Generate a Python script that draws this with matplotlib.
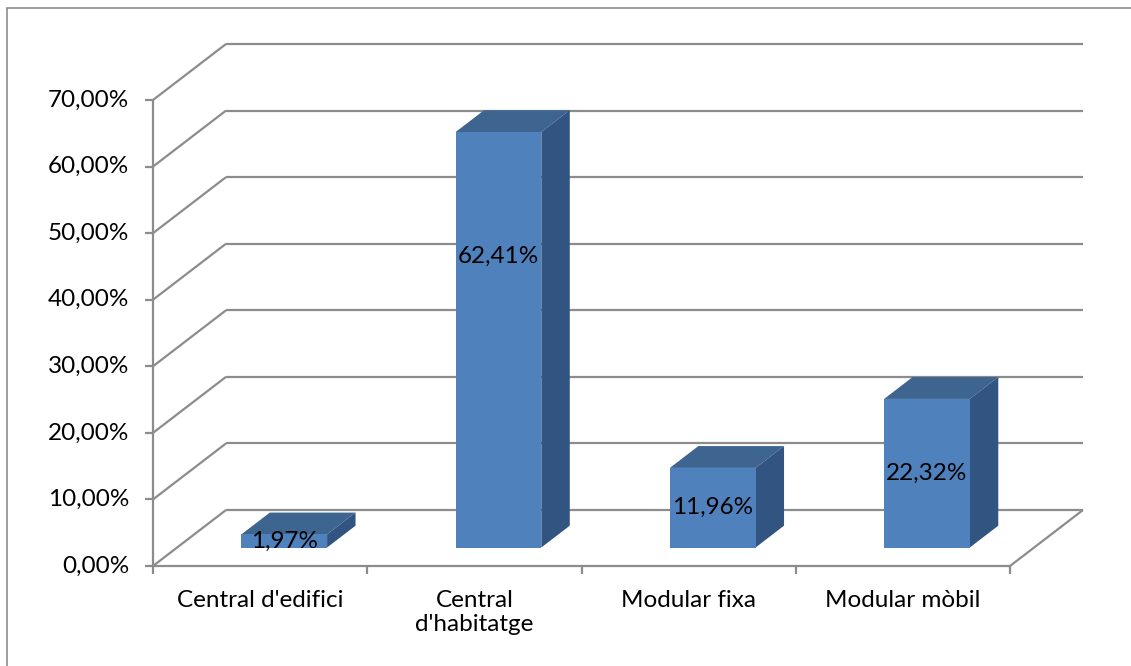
import matplotlib.pyplot as plt
from matplotlib.patches import Polygon, Rectangle

# chart data
categories = ["Central d'edifici", "Central\nd'habitatge", "Modular fixa", "Modular mòbil"]
values = [1.97, 62.41, 11.96, 22.32]
yticks = [0, 10, 20, 30, 40, 50, 60, 70]

plt.rcParams['font.family'] = ['Lato', 'DejaVu Sans']

W, H = 1131, 666
fig = plt.figure(figsize=(W / 100, H / 100), dpi=100)

# front plane of the 3d box, in pixels (left, bottom, right, top)
px0, py0, px1, py1 = 153, 566, 1010, 100
ax = fig.add_axes([px0 / W, (H - py0) / H, (px1 - px0) / W, (py0 - py1) / H])
ax.set_xlim(0, len(categories))
ax.set_ylim(0, 70)
ax.axis('off')

# depth of the box in data units
n = len(categories)
DX = 73 / ((px1 - px0) / n)
DY = 56 / ((py0 - py1) / 70)

grid_c = '#8c8c8c'
lw = 1.6
fs = 17.5
kw = dict(color=grid_c, lw=lw, clip_on=False, solid_capstyle='butt')

# back wall lines + left wall diagonals
for v in yticks:
    ax.plot([DX, n + DX], [v + DY, v + DY], zorder=1, **kw)
    ax.plot([0, DX], [v, v + DY], zorder=1, **kw)
# floor right edge, front axes
ax.plot([n, n + DX], [0, DY], zorder=1, **kw)
ax.plot([0, n], [0, 0], zorder=5, **kw)
ax.plot([0, 0], [0, 70], zorder=5, **kw)

# tick marks
tx = 8 / ((px1 - px0) / n)
ty = 8 / ((py0 - py1) / 70)
for v in yticks:
    ax.plot([-tx, 0], [v, v], zorder=5, **kw)
    ax.text(-0.11, v, f"{v:.2f}%".replace('.', ','), ha='right', va='center',
            fontsize=fs, color='black')
for i in range(n + 1):
    ax.plot([i, i], [0, -ty], zorder=5, **kw)

for i, c in enumerate(categories):
    ax.text(i + 0.5, -3.6, c, ha='center', va='top', fontsize=fs,
            color='black', linespacing=1.2)

# 3d bars
f0, f1 = 0.33, 0.72
bw = 0.40
front_c, top_c, side_c = '#4f81bd', '#3d6590', '#325480'
label_frac = {1: 0.70}
for i, v in enumerate(values):
    x0 = i + 0.5 - bw / 2 + f0 * DX
    y0 = f0 * DY
    ddx = (f1 - f0) * DX
    ddy = (f1 - f0) * DY
    top = [(x0, y0 + v), (x0 + bw, y0 + v), (x0 + bw + ddx, y0 + v + ddy),
           (x0 + ddx, y0 + v + ddy)]
    side = [(x0 + bw, y0), (x0 + bw + ddx, y0 + ddy),
            (x0 + bw + ddx, y0 + v + ddy), (x0 + bw, y0 + v)]
    ax.add_patch(Polygon(top, closed=True, fc=top_c, ec='none', zorder=3, clip_on=False))
    ax.add_patch(Polygon(side, closed=True, fc=side_c, ec='none', zorder=3, clip_on=False))
    ax.add_patch(Rectangle((x0, y0), bw, v, fc=front_c, ec='none', zorder=3, clip_on=False))
    ly = y0 + v * label_frac.get(i, 0.5)
    ax.text(x0 + bw / 2, ly, f"{v:.2f}%".replace('.', ','), ha='center', va='center',
            fontsize=fs, color='black', zorder=6)

# chart area border
border = Rectangle((7 / W, -0.2), 1.2, 1.2 - 8 / H, transform=fig.transFigure,
                   fill=False, ec='#8c8c8c', lw=1.2)
fig.patches.append(border)

fig.savefig('out.png', dpi=100)
